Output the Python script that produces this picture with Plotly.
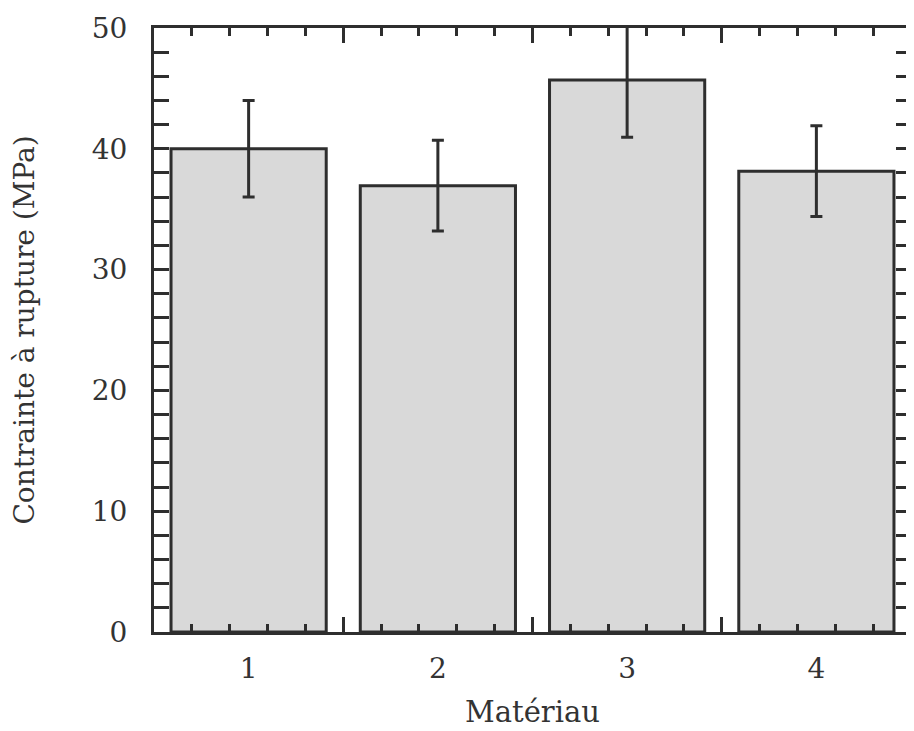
import plotly.graph_objects as go

materials = [1, 2, 3, 4]
material_labels = ["1", "2", "3", "4"]
stress_mpa = [40.0, 36.95, 45.7, 38.15]
stress_err = [4.0, 3.75, 4.75, 3.75]

y_major = [0, 10, 20, 30, 40, 50]
y_minor = [v for v in range(0, 51, 2) if v % 10 != 0]
x_major = [1.5, 2.5, 3.5]
x_minor = [round(0.5 + 0.2 * k, 2) for k in range(1, 20) if k % 5 != 0]

FONT = "DejaVu Serif"
INK = "#2e2e2e"

fig = go.Figure()
fig.add_trace(go.Bar(
    x=materials, y=stress_mpa, width=0.82,
    marker=dict(color="#d9d9d9", line=dict(color=INK, width=3)),
    error_y=dict(type="data", array=stress_err, visible=True, color=INK, thickness=3, width=6),
    showlegend=False, hoverinfo="skip",
))
fig.add_trace(go.Scatter(x=[1.5], y=[0], xaxis="x2", mode="markers",
                         marker=dict(opacity=0), showlegend=False, hoverinfo="skip"))

fig.update_layout(
    width=906, height=723,
    margin=dict(l=146, r=0, t=20, b=99),
    paper_bgcolor="white", plot_bgcolor="white",
    font=dict(family=FONT, size=28, color="#333333"),
    xaxis=dict(
        range=[0.5, 4.5], tickmode="array", tickvals=materials, ticktext=material_labels,
        ticks="", showline=True, linecolor=INK, linewidth=3, mirror=True,
        showgrid=False, zeroline=False, ticklabelstandoff=9,
        title=dict(text="Matériau", standoff=19, font=dict(size=29)),
        tickfont=dict(size=28),
    ),
    xaxis2=dict(
        overlaying="x", matches="x", side="bottom", range=[0.5, 4.5],
        tickmode="array", tickvals=x_major, showticklabels=False,
        ticks="inside", ticklen=15, tickwidth=2.5, tickcolor=INK,
        mirror="ticks", showline=False, showgrid=False, zeroline=False,
        minor=dict(tickmode="array", tickvals=x_minor, ticks="inside",
                   ticklen=8, tickwidth=2.5, tickcolor=INK, showgrid=False),
    ),
    yaxis=dict(
        range=[0, 50], tickmode="array", tickvals=y_major,
        ticks="inside", ticklen=15, tickwidth=2.5, tickcolor=INK,
        showline=True, linecolor=INK, linewidth=3, mirror="allticks",
        showgrid=False, zeroline=False, ticklabelstandoff=18,
        minor=dict(tickmode="array", tickvals=y_minor, ticks="inside",
                   ticklen=8, tickwidth=2.5, tickcolor=INK, showgrid=False),
        title=dict(text="Contrainte à rupture (MPa)", standoff=50, font=dict(size=28)),
        tickfont=dict(size=28),
    ),
)

fig.write_html("out.html")
